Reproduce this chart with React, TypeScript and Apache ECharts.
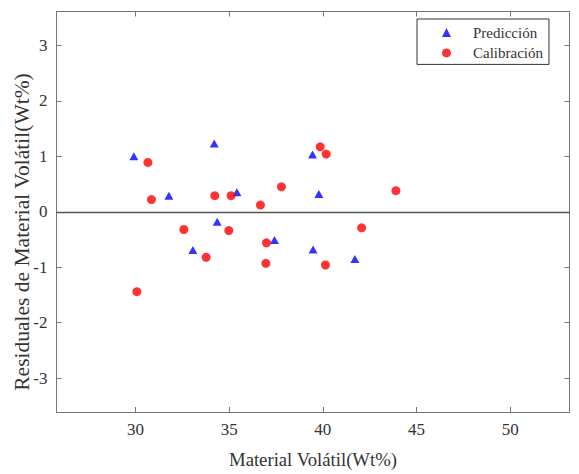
import React, { useEffect, useRef } from "react";
import * as echarts from "echarts";

const xTicks = [30, 35, 40, 45, 50];
const yTicks = [-3, -2, -1, 0, 1, 2, 3];

const predX = [29.91, 34.2, 31.78, 35.41, 34.36, 33.06, 37.42, 39.45, 39.79, 39.48, 41.71];
const predY = [1.0, 1.23, 0.29, 0.35, -0.18, -0.69, -0.51, 1.03, 0.32, -0.68, -0.85];

const calX = [30.66, 30.85, 34.23, 35.1, 36.67, 37.79, 32.58, 34.98, 36.99, 33.77, 36.96, 30.07, 39.86, 40.18, 43.9, 42.07, 40.14];
const calY = [0.89, 0.22, 0.29, 0.29, 0.12, 0.45, -0.32, -0.34, -0.56, -0.82, -0.93, -1.44, 1.17, 1.04, 0.38, -0.29, -0.96];

const xName = "Material Volátil(Wt%)";
const yName = "Residuales de Material Volátil(Wt%)";
const names = ["Predicción", "Calibración"];

const FONT = "Liberation Serif";
const AXIS = "#777";
const TEXT = "#333";

export default function App() {
  const ref = useRef<HTMLDivElement>(null);
  useEffect(() => {
    if (!ref.current) return;
    const chart = echarts.init(ref.current, undefined, { renderer: "svg" });
    const xRange = { min: 25.78, max: 53.17 };
    const yRange = { min: -3.61, max: 3.61 };
    const tickStyle = (vals: number[]) => ({
      show: true,
      inside: true,
      length: 5,
      customValues: vals,
      lineStyle: { color: AXIS, width: 1 },
    });
    const labelStyle = (vals: number[]) => ({
      show: true,
      customValues: vals,
      margin: 9,
      fontFamily: FONT,
      fontSize: 17,
      color: TEXT,
    });
    const option: any = {
      animation: false,
      backgroundColor: "#fff",
      textStyle: { fontFamily: FONT, fontSize: 17 },
      grid: { left: 56.5, right: 9.5, top: 11.5, bottom: 52, containLabel: false },
      legend: {
        show: true,
        orient: "vertical",
        left: 417,
        top: 19,
        padding: [6, 6, 4, 25],
        itemWidth: 9,
        itemHeight: 9,
        itemGap: 5.4,
        selectedMode: false,
        borderColor: "#333",
        borderWidth: 1,
        backgroundColor: "#fff",
        textStyle: { fontFamily: FONT, fontSize: 15, color: TEXT, lineHeight: 14, padding: [0, 0, 0, 17] },
        data: [
          { name: names[0], icon: "triangle" },
          { name: names[1], icon: "circle" },
        ],
      },
      xAxis: [
        {
          type: "value",
          position: "bottom",
          ...xRange,
          name: xName,
          nameLocation: "middle",
          nameGap: 38,
          nameTextStyle: { fontFamily: FONT, fontSize: 18.7, color: TEXT },
          axisLine: { show: true, onZero: false, lineStyle: { color: AXIS, width: 1 } },
          axisTick: tickStyle(xTicks),
          axisLabel: labelStyle(xTicks),
          splitLine: { show: false },
        },
        {
          type: "value",
          position: "top",
          ...xRange,
          axisLine: { show: true, onZero: false, lineStyle: { color: AXIS, width: 1 } },
          axisTick: tickStyle(xTicks),
          axisLabel: { show: false },
          splitLine: { show: false },
        },
      ],
      yAxis: [
        {
          type: "value",
          position: "left",
          ...yRange,
          axisLine: { show: true, onZero: false, lineStyle: { color: AXIS, width: 1 } },
          axisTick: tickStyle(yTicks),
          axisLabel: labelStyle(yTicks),
          splitLine: { show: false },
        },
        {
          type: "value",
          position: "right",
          ...yRange,
          axisLine: { show: true, onZero: false, lineStyle: { color: AXIS, width: 1 } },
          axisTick: tickStyle(yTicks),
          axisLabel: { show: false },
          splitLine: { show: false },
        },
      ],
      graphic: [
        {
          type: "text",
          x: 22,
          y: 232,
          rotation: Math.PI / 2,
          style: {
            text: yName,
            fontFamily: FONT,
            fontSize: 21.5,
            fill: TEXT,
            textAlign: "center",
            textVerticalAlign: "middle",
          },
        },
      ],
      series: [
        {
          name: names[0],
          type: "scatter",
          symbol: "triangle",
          symbolSize: [9, 8],
          itemStyle: { color: "#0000ff" },
          data: predX.map((x, i) => [x, predY[i]]),
          markLine: {
            silent: true,
            symbol: ["none", "none"],
            label: { show: false },
            lineStyle: { color: "#555", width: 1.3, type: "solid" },
            data: [{ yAxis: 0 }],
          },
          z: 3,
        },
        {
          name: names[1],
          type: "scatter",
          symbol: "circle",
          symbolSize: 9,
          itemStyle: { color: "#ff0000" },
          data: calX.map((x, i) => [x, calY[i]]),
          z: 4,
        },
      ],
    };
    chart.setOption(option);
    return () => chart.dispose();
  }, []);
  return (
    <div
      ref={ref}
      style={{ position: "fixed", left: 0, top: 0, width: 579, height: 474, background: "#fff" }}
    />
  );
}
